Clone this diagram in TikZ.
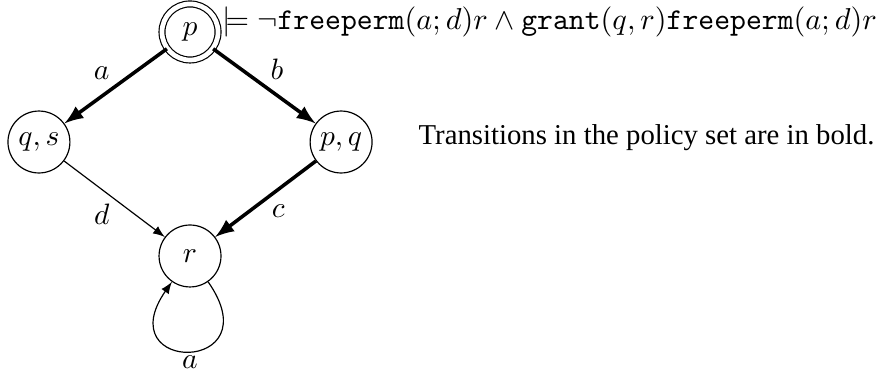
\documentclass[tikz,border=0pt]{standalone}
\usepackage{fontspec}
\setmainfont{Liberation Serif}
\usepackage{amsmath}
\usepackage{graphicx}

\begin{document}
\begin{tikzpicture}[
    state/.style={circle, draw, minimum size=21pt, inner sep=1pt},
    final/.style={circle, draw, double, double distance=1.6pt, minimum size=19pt, inner sep=1pt},
    arrow/.style={->, >=latex},
    policy/.style={->, >=latex, very thick},
    edgelab/.style={inner sep=1.5pt}
]
\useasboundingbox (-2.264,0.381) rectangle (8.221,-4.099);
\node[final] (p) at (0,0) {$p$};
\node[state] (qs) at (-1.8,-1.311) {$q,s$};
\node[state] (pq) at (1.8,-1.311) {$p,q$};
\node[state] (r) at (0,-2.669) {$r$};
\node[anchor=base west, inner sep=0pt, xshift=1pt, yshift=1pt] (prop) at (p.east) {\scalebox{1.025}{$\models \neg\texttt{freeperm}(a;d)r \wedge \texttt{grant}(q,r)\texttt{freeperm}(a;d)r$}};
\node[anchor=base west, inner sep=0pt, yshift=-1pt, font=\fontsize{9.75pt}{12pt}\selectfont] (note) at (2.717,-1.311) {Transitions in the policy set are in bold.};

\draw[policy] (p) -- node[edgelab, above left] {$a$} (qs);
\draw[policy] (p) -- node[edgelab, above right] {$b$} (pq);
\draw[arrow] (qs) -- node[edgelab, below left] {$d$} (r);
\draw[policy] (pq) -- node[edgelab, below right] {$c$} (r);
\draw[arrow] (r) to[out=-55, in=-125, looseness=8] node[edgelab, below] {$a$} (r);
\end{tikzpicture}
\end{document}
